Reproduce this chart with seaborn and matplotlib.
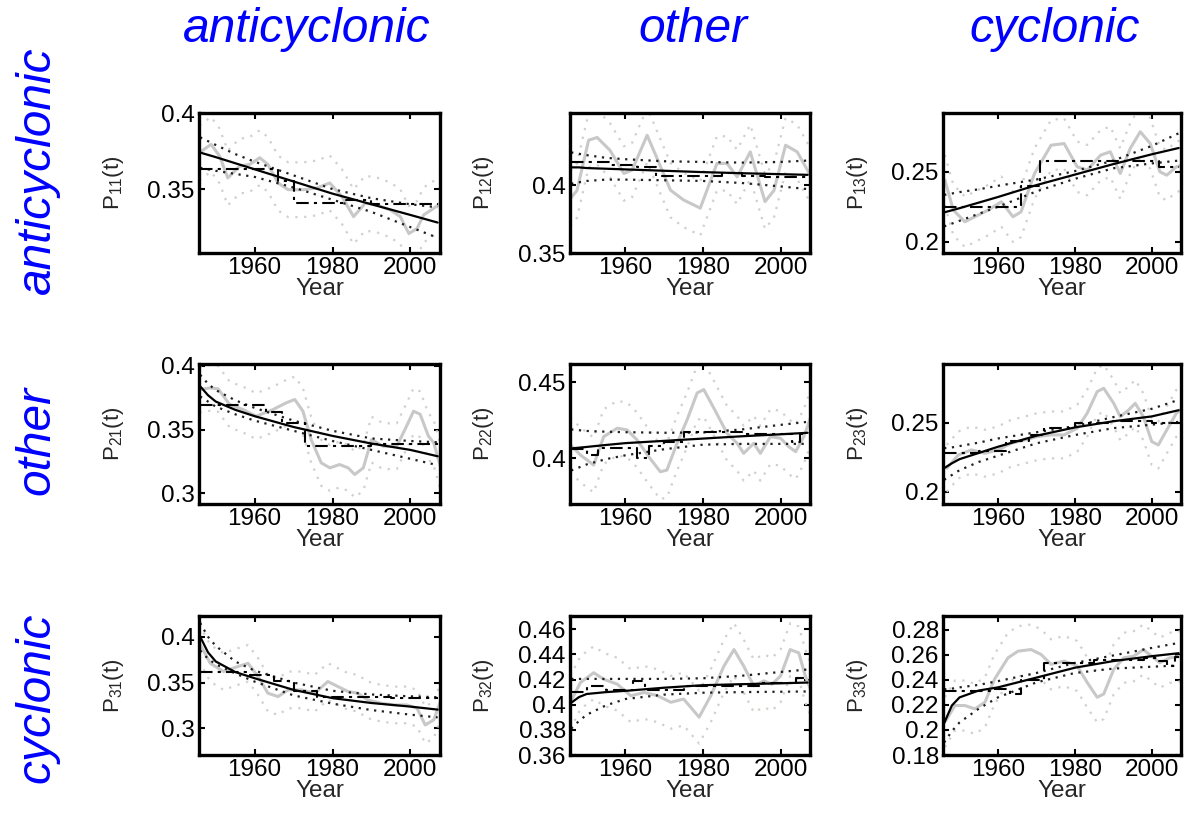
import matplotlib
matplotlib.use('Agg')
import matplotlib.pyplot as plt
import seaborn as sns

# common years for the fitted trend and its confidence limits
trend_years = [1946, 1948, 1950, 1955, 1960, 1970, 1980, 1990, 2000, 2007]

# P11
p11_trend = [0.374, 0.3725, 0.371, 0.367, 0.363, 0.355, 0.347, 0.340, 0.333, 0.328]
p11_hi = [0.384, 0.3815, 0.379, 0.373, 0.368, 0.359, 0.350, 0.344, 0.340, 0.338]
p11_lo = [0.364, 0.363, 0.362, 0.360, 0.358, 0.351, 0.343, 0.335, 0.325, 0.318]
p11_step_years = [1946, 1966, 1970, 1983, 1990, 2007]
p11_step = [0.3635, 0.355, 0.341, 0.3425, 0.340, 0.340]
p11_gray_years = [1945.8, 1948.8, 1951, 1953.1, 1956.1, 1958.7, 1961.3, 1963.4, 1966, 1968.6, 1972.5,
                  1975.9, 1979.3, 1982.4, 1985.4, 1988.4, 1991.4, 1994.8, 1997.4, 1999.6, 2001.7,
                  2003.4, 2006, 2007.7]
p11_gray = [0.3739, 0.3794, 0.3717, 0.3573, 0.365, 0.3662, 0.3706, 0.3662, 0.354, 0.3496, 0.3496,
            0.3507, 0.354, 0.3451, 0.3319, 0.3407, 0.3396, 0.3363, 0.3319, 0.3208, 0.3241,
            0.333, 0.3374, 0.3407]

# P12
p12_trend = [0.413, 0.413, 0.4125, 0.412, 0.4115, 0.4105, 0.4095, 0.4087, 0.408, 0.4075]
p12_hi = [0.424, 0.423, 0.422, 0.420, 0.419, 0.4175, 0.417, 0.4165, 0.417, 0.418]
p12_lo = [0.401, 0.402, 0.403, 0.404, 0.404, 0.4035, 0.403, 0.4015, 0.399, 0.397]
p12_step_years = [1946, 1956, 1963, 1968, 1985, 1990, 1996, 2007]
p12_step = [0.417, 0.415, 0.413, 0.407, 0.409, 0.407, 0.406, 0.406]
p12_gray_years = [1945.8, 1947.5, 1950.5, 1952.7, 1956, 1959.6, 1961.7, 1965.6, 1968, 1971.6, 1975,
                  1979.3, 1983.6, 1986.2, 1988.8, 1992.2, 1996, 1998.3, 2001.3, 2004.3, 2007.7]
p12_gray = [0.390, 0.396, 0.433, 0.435, 0.4256, 0.4085, 0.411, 0.4366, 0.4207, 0.3963, 0.389,
            0.383, 0.4159, 0.4159, 0.406, 0.4244, 0.3878, 0.396, 0.4293, 0.4244, 0.407]

# P13
p13_trend = [0.221, 0.2225, 0.224, 0.228, 0.232, 0.2405, 0.248, 0.2555, 0.2625, 0.267]
p13_hi = [0.2335, 0.2345, 0.2355, 0.2375, 0.240, 0.2445, 0.2505, 0.258, 0.2685, 0.2775]
p13_lo = [0.211, 0.213, 0.215, 0.220, 0.225, 0.236, 0.245, 0.2525, 0.256, 0.258]
p13_step_years = [1946, 1966, 1971, 2002, 2007]
p13_step = [0.225, 0.240, 0.2575, 0.2536, 0.2536]
p13_gray_years = [1946.2, 1948.4, 1951.4, 1954.8, 1957.4, 1960.9, 1963.9, 1966, 1969.5, 1973.8, 1977.2,
                  1980.6, 1983.2, 1986.7, 1989.2, 1991.8, 1994.4, 1997, 1999.6, 2002.1, 2003.9, 2006.4,
                  2007.7]
p13_gray = [0.244, 0.2226, 0.2143, 0.219, 0.2226, 0.2286, 0.2179, 0.2214, 0.2488, 0.269, 0.2702,
            0.2536, 0.2512, 0.2619, 0.2643, 0.2488, 0.2667, 0.2786, 0.2702, 0.25, 0.2476, 0.2536,
            0.2545]

# P21
p21_trend = [0.384, 0.377, 0.372, 0.3655, 0.3605, 0.352, 0.345, 0.339, 0.334, 0.329]
p21_hi = [0.393, 0.386, 0.381, 0.373, 0.367, 0.357, 0.349, 0.343, 0.341, 0.340]
p21_lo = [0.376, 0.372, 0.368, 0.362, 0.357, 0.349, 0.341, 0.334, 0.327, 0.322]
p21_step_years = [1946, 1963, 1967, 1973, 1990, 2007]
p21_step = [0.369, 0.364, 0.355, 0.337, 0.3385, 0.3385]
p21_gray_years = [1945.8, 1948.5, 1950.6, 1953.6, 1957, 1960.4, 1964.7, 1968.1, 1970.3, 1972.4, 1974.5,
                  1977.1, 1979.3, 1981.8, 1984, 1985.7, 1987.9, 1990, 1993, 1996.5, 1999, 2000.8,
                  2002.5, 2004.6, 2006, 2007.7]
p21_gray = [0.3814, 0.3827, 0.382, 0.3696, 0.3657, 0.3605, 0.3657, 0.371, 0.3736, 0.3644, 0.3421,
            0.3238, 0.3199, 0.3225, 0.3199, 0.3147, 0.3199, 0.3421, 0.3369, 0.3369, 0.3526, 0.3644,
            0.362, 0.345, 0.3395, 0.321]

# P22
p22_trend = [0.4065, 0.407, 0.4075, 0.4088, 0.410, 0.4115, 0.413, 0.4145, 0.4158, 0.4168]
p22_hi = [0.419, 0.4185, 0.418, 0.4175, 0.4172, 0.4168, 0.417, 0.419, 0.422, 0.424]
p22_lo = [0.392, 0.394, 0.396, 0.3995, 0.402, 0.406, 0.409, 0.4095, 0.4095, 0.4095]
p22_step_years = [1946, 1950, 1953, 1963, 1966, 1970, 1975, 1990, 2003, 2005, 2007]
p22_step = [0.406, 0.402, 0.407, 0.400, 0.408, 0.411, 0.4175, 0.416, 0.411, 0.416, 0.416]
p22_gray_years = [1945.8, 1948.4, 1951.8, 1954.4, 1957.9, 1960.4, 1963, 1966, 1969, 1970.7, 1973.3,
                  1975.9, 1978.5, 1980.2, 1982.8, 1986.2, 1988.8, 1990.5, 1993.1, 1994.8, 1997.4,
                  2000, 2002.1, 2003.9, 2006, 2007.7]
p22_gray = [0.4088, 0.4022, 0.3956, 0.4143, 0.4198, 0.4187, 0.4121, 0.4011, 0.3912, 0.3923, 0.4099,
            0.4253, 0.443, 0.4452, 0.433, 0.4165, 0.4099, 0.4033, 0.4099, 0.4033, 0.4143,
            0.4132, 0.4077, 0.4044, 0.4143, 0.4264]

# P23
p23_trend = [0.217, 0.2205, 0.2235, 0.228, 0.2325, 0.2405, 0.2465, 0.251, 0.2545, 0.259]
p23_hi = [0.2315, 0.232, 0.233, 0.2355, 0.2385, 0.243, 0.2475, 0.254, 0.260, 0.2665]
p23_lo = [0.2085, 0.212, 0.2155, 0.2215, 0.226, 0.235, 0.241, 0.246, 0.2485, 0.2505]
p23_step_years = [1946, 1955, 1962, 1968, 1972, 1980, 1990, 2000, 2007]
p23_step = [0.228, 0.2295, 0.237, 0.241, 0.246, 0.2495, 0.2515, 0.2495, 0.2495]
p23_gray_years = [1946.7, 1949.7, 1953.1, 1956.6, 1960, 1963.4, 1966.9, 1970.3, 1973.8, 1977.2, 1980.6,
                  1983.2, 1985.8, 1987.5, 1990.1, 1991.8, 1994, 1995.7, 1997.8, 2000, 2001.7, 2003.9,
                  2006.4, 2007.7]
p23_gray = [0.2169, 0.2266, 0.2302, 0.2278, 0.2302, 0.235, 0.2374, 0.2399, 0.2411, 0.2411, 0.2459,
            0.2568, 0.2725, 0.2749, 0.264, 0.2543, 0.2592, 0.264, 0.2543, 0.2362, 0.2338, 0.2447,
            0.2568, 0.2600]

# P31
p31_trend = [0.400, 0.383, 0.373, 0.3615, 0.3547, 0.342, 0.333, 0.3277, 0.3238, 0.3205]
p31_hi = [0.415, 0.400, 0.390, 0.373, 0.363, 0.350, 0.341, 0.337, 0.335, 0.334]
p31_lo = [0.385, 0.376, 0.370, 0.360, 0.351, 0.336, 0.327, 0.320, 0.315, 0.312]
p31_step_years = [1946, 1958, 1965, 1970, 1976, 1995, 2007]
p31_step = [0.361, 0.358, 0.352, 0.341, 0.3345, 0.333, 0.333]
p31_gray_years = [1945.8, 1948.6, 1952, 1955.7, 1958.3, 1960.9, 1963.4, 1966, 1968.6, 1972, 1975.4,
                  1978.8, 1981.4, 1984, 1986.5, 1989, 1992.4, 1995.8, 1999.1, 2001.7, 2003.8,
                  2006, 2007.7]
p31_gray = [0.393, 0.371, 0.362, 0.3675, 0.371, 0.3565, 0.3384, 0.3347, 0.342, 0.342, 0.3384,
            0.3511, 0.3456, 0.3402, 0.3384, 0.3311, 0.3275, 0.3256, 0.3256, 0.322, 0.3038,
            0.3093, 0.3293]

# P32
p32_trend = [0.4015, 0.406, 0.4085, 0.410, 0.411, 0.4135, 0.4155, 0.4163, 0.417, 0.4176]
p32_hi = [0.4205, 0.4205, 0.4205, 0.4205, 0.4205, 0.4205, 0.421, 0.423, 0.426, 0.428]
p32_lo = [0.381, 0.387, 0.392, 0.3995, 0.4045, 0.408, 0.4095, 0.410, 0.4103, 0.4105]
p32_step_years = [1946, 1950, 1955, 1962, 1965, 1975, 1995, 2004, 2007]
p32_step = [0.410, 0.415, 0.412, 0.419, 0.412, 0.415, 0.417, 0.421, 0.421]
p32_gray_years = [1945.8, 1948.4, 1951.8, 1954.4, 1957.9, 1961.4, 1964.8, 1968.3, 1971.7, 1975, 1979,
                  1982, 1985.4, 1988, 1990.5, 1993.1, 1995.7, 1997.8, 2000, 2002.5, 2004.7, 2006.4,
                  2007.7]
p32_gray = [0.4019, 0.4176, 0.4254, 0.4202, 0.4163, 0.4071, 0.4097, 0.4071, 0.4019, 0.4045, 0.3901,
            0.4071, 0.4307, 0.4438, 0.4307, 0.415, 0.4189, 0.4163, 0.4228, 0.4438, 0.4412, 0.4228,
            0.4124]

# P33
p33_trend = [0.2055, 0.2195, 0.226, 0.2315, 0.234, 0.2418, 0.2497, 0.255, 0.2589, 0.2613]
p33_hi = [0.2325, 0.233, 0.234, 0.236, 0.239, 0.2455, 0.2535, 0.2595, 0.2655, 0.2695]
p33_lo = [0.190, 0.199, 0.206, 0.217, 0.226, 0.238, 0.2455, 0.249, 0.2505, 0.2515]
p33_step_years = [1946, 1958, 1963, 1966, 1972, 1985, 1998, 2002, 2004, 2006, 2007]
p33_step = [0.231, 0.233, 0.229, 0.240, 0.2535, 0.2555, 0.2575, 0.255, 0.251, 0.258, 0.258]
p33_gray_years = [1946.2, 1948.8, 1951.4, 1954, 1956.6, 1959.1, 1962.6, 1965.2, 1968.6, 1971.2, 1973.8,
                  1977.2, 1980.6, 1983.2, 1985.8, 1987.5, 1990.1, 1992.7, 1995.3, 1997.8, 2000,
                  2002.1, 2004.7, 2007.7]
p33_gray = [0.2063, 0.2195, 0.2195, 0.2168, 0.2221, 0.2405, 0.2576, 0.2629, 0.2642, 0.2603, 0.2524,
            0.255, 0.2511, 0.2379, 0.2261, 0.2287, 0.2484, 0.2576, 0.2589, 0.2642, 0.2589,
            0.2537, 0.2576, 0.2589]

# half width of the light grey dotted band around the grey curve
gray_band = [0.018, 0.02, 0.018, 0.018, 0.018, 0.017, 0.02, 0.021, 0.02]

panel_names = ['11', '12', '13', '21', '22', '23', '31', '32', '33']
ylims = [(0.308, 0.4), (0.35, 0.453), (0.192, 0.292),
         (0.2915, 0.4015), (0.37, 0.462), (0.191, 0.2925),
         (0.271, 0.4226), (0.36, 0.4705), (0.18, 0.291)]
yticks = [[0.35, 0.4], [0.35, 0.4], [0.2, 0.25],
          [0.3, 0.35, 0.4], [0.4, 0.45], [0.2, 0.25],
          [0.3, 0.35, 0.4], [0.36, 0.38, 0.4, 0.42, 0.44, 0.46],
          [0.18, 0.2, 0.22, 0.24, 0.26, 0.28]]
ytick_labels = [['0.35', '0.4'], ['0.35', '0.4'], ['0.2', '0.25'],
                ['0.3', '0.35', '0.4'], ['0.4', '0.45'], ['0.2', '0.25'],
                ['0.3', '0.35', '0.4'], ['0.36', '0.38', '0.4', '0.42', '0.44', '0.46'],
                ['0.18', '0.2', '0.22', '0.24', '0.26', '0.28']]
xticks = [1960, 1980, 2000]
xtick_labels = ['1960', '1980', '2000']
regimes = ['anticyclonic', 'other', 'cyclonic']

trends = [p11_trend, p12_trend, p13_trend, p21_trend, p22_trend, p23_trend, p31_trend, p32_trend, p33_trend]
his = [p11_hi, p12_hi, p13_hi, p21_hi, p22_hi, p23_hi, p31_hi, p32_hi, p33_hi]
los = [p11_lo, p12_lo, p13_lo, p21_lo, p22_lo, p23_lo, p31_lo, p32_lo, p33_lo]
step_years = [p11_step_years, p12_step_years, p13_step_years, p21_step_years, p22_step_years,
              p23_step_years, p31_step_years, p32_step_years, p33_step_years]
steps = [p11_step, p12_step, p13_step, p21_step, p22_step, p23_step, p31_step, p32_step, p33_step]
gray_years = [p11_gray_years, p12_gray_years, p13_gray_years, p21_gray_years, p22_gray_years,
              p23_gray_years, p31_gray_years, p32_gray_years, p33_gray_years]
grays = [p11_gray, p12_gray, p13_gray, p21_gray, p22_gray, p23_gray, p31_gray, p32_gray, p33_gray]

sns.set_style('ticks')
plt.rcParams['font.family'] = ['Liberation Sans', 'DejaVu Sans']
plt.rcParams['mathtext.default'] = 'regular'

W, H = 1184, 813
fig = plt.figure(figsize=(W / 100, H / 100), dpi=100)

col_left = [199, 570, 943]
col_right = [440, 810, 1181]
row_top = [113, 364, 616]
row_bot = [253, 504, 755]

for k in range(9):
    r, c = divmod(k, 3)
    l, rt, t, b = col_left[c], col_right[c], row_top[r], row_bot[r]
    ax = fig.add_axes([l / W, 1 - b / H, (rt - l) / W, (b - t) / H])

    g_hi = [v + gray_band[k] for v in grays[k]]
    g_lo = [v - gray_band[k] for v in grays[k]]
    for band in (g_hi, g_lo):
        sns.lineplot(x=gray_years[k], y=band, ax=ax, color='#d2cfcb', lw=1.6,
                     linestyle=(0, (1, 3)), estimator=None, sort=False)
    sns.lineplot(x=gray_years[k], y=grays[k], ax=ax, color='#c8c8c8', lw=2.2,
                 estimator=None, sort=False)
    for ci in (his[k], los[k]):
        sns.lineplot(x=trend_years, y=ci, ax=ax, color='#202020', lw=1.6,
                     linestyle=(0, (1, 2.5)), estimator=None, sort=False)
    sns.lineplot(x=step_years[k], y=steps[k], ax=ax, color='black', lw=1.5,
                 linestyle=(0, (6, 2.5, 1.5, 2.5)), drawstyle='steps-post',
                 estimator=None, sort=False)
    sns.lineplot(x=trend_years, y=trends[k], ax=ax, color='black', lw=1.6,
                 estimator=None, sort=False)

    ax.set_xlim(1945.7, 2007.6)
    ax.set_ylim(*ylims[k])
    ax.set_xticks(xticks)
    ax.set_xticklabels(xtick_labels)
    ax.set_yticks(yticks[k])
    ax.set_yticklabels(ytick_labels[k])
    ax.tick_params(direction='in', top=True, right=True, length=4, width=1.5,
                   labelsize=17.5, pad=3, colors='black')
    for s in ax.spines.values():
        s.set_linewidth(2.4)
        s.set_color('black')
    ax.set_xlabel('Year', fontsize=17.5, labelpad=-1)
    ax.set_ylabel('P$_{' + panel_names[k] + '}$(t)', fontsize=16, va='center')
    ax.yaxis.set_label_coords(-86 / (rt - l), 0.5)

title_x = [307, 693, 1055]
for c in range(3):
    fig.text(title_x[c] / W, 1 - 30 / H, regimes[c], color='blue', style='italic',
             fontsize=34.5, ha='center', va='center')
row_y = [170, 440, 698]
for r in range(3):
    fig.text(37 / W, 1 - row_y[r] / H, regimes[r], color='blue', style='italic',
             fontsize=34.5, ha='center', va='center', rotation=90)

fig.savefig('out.png', dpi=100)
